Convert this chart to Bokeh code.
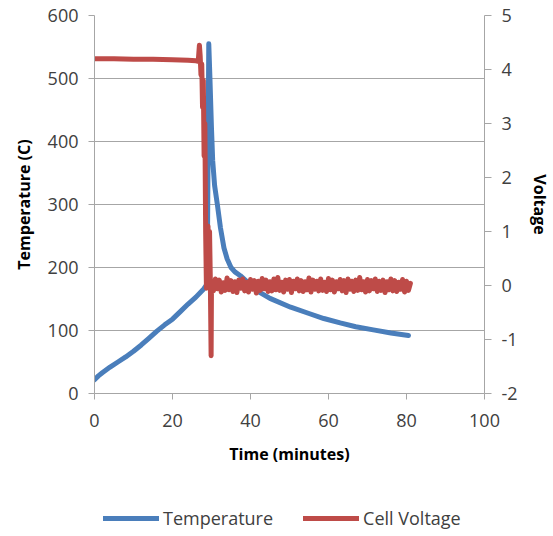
from bokeh.plotting import figure
from bokeh.layouts import column
from bokeh.models import Range1d, LinearAxis, FixedTicker, Legend, LegendItem
from bokeh.embed import file_html
from bokeh.resources import INLINE

# Temperature trace (minutes, deg C)
temp_t = [0, 1, 2, 4, 6, 8, 10, 12, 14, 16, 18, 20, 22, 24, 26, 28, 28.9,
          29.3, 29.6, 30.0, 30.3, 30.8, 31.5, 32.3, 33.2, 34.0, 35.0, 36.0,
          37.4, 39.0, 41.7, 45.0, 50.3, 55.0, 58.8, 63.0, 67.0, 71.5, 76.0, 80.5]
temp_c = [22, 28, 33, 42, 50, 58, 67, 77, 88, 99, 109, 118, 130, 142, 153, 166, 174,
          555, 500, 420, 370, 330, 300, 263, 231, 214, 200, 193,
          187, 178, 163, 151, 137, 127, 119, 112, 106, 101, 96, 92]

# Cell voltage before and during the event (minutes, V)
volt_t = [0, 5, 10, 15, 20, 24, 26, 26.6, 26.9, 27.1, 27.3, 27.5, 27.7, 27.9,
          28.1, 28.3, 28.5, 28.7, 28.9, 29.1, 29.3, 29.5, 29.7, 29.9]
volt_v = [4.20, 4.20, 4.19, 4.19, 4.18, 4.17, 4.16, 4.15, 4.45, 4.25, 3.90, 4.10, 3.30, 3.80,
          2.40, 3.00, 1.00, -0.05, 0.30, 1.10, 0.50, 1.00, 0.10, -1.30]

# Cell voltage after the event, sampled every half minute from 30 min
after_start = 30.0
after_step = 0.5
after_v = [0.08, -0.10, 0.12, -0.06, 0.10, -0.12, 0.05, -0.09, 0.14, -0.08,
           0.09, -0.11, 0.07, -0.13, 0.10, -0.05, 0.12, -0.10, 0.06, -0.12,
           0.11, -0.07, 0.09, -0.14, 0.08, -0.09, 0.13, -0.06, 0.10, -0.11,
           0.07, -0.10, 0.12, -0.08, 0.15, -0.09, 0.06, -0.12, 0.10, -0.07,
           0.11, -0.13, 0.08, -0.06, 0.12, -0.10, 0.09, -0.11, 0.07, -0.08,
           0.14, -0.12, 0.10, -0.07, 0.08, -0.10, 0.12, -0.09, 0.06, -0.11,
           0.13, -0.08, 0.10, -0.12, 0.07, -0.06, 0.11, -0.10, 0.09, -0.13,
           0.12, -0.07, 0.08, -0.11, 0.10, -0.09, 0.15, -0.08, 0.07, -0.12,
           0.11, -0.10, 0.09, -0.06, 0.12, -0.11, 0.08, -0.09, 0.10, -0.13,
           0.07, -0.08, 0.12, -0.10, 0.09, -0.11, 0.06, -0.07, 0.11, -0.12,
           0.08, -0.09, 0.04]
after_t = [after_start + after_step * i for i in range(len(after_v))]

x_ticks = [0, 20, 40, 60, 80, 100]
temp_ticks = [0, 100, 200, 300, 400, 500, 600]
volt_ticks = [-2, -1, 0, 1, 2, 3, 4, 5]
series_names = ["Temperature", "Cell Voltage"]

BLUE = "#4a7ebb"
RED = "#be4b48"
GRID = "#a6a6a6"
TICK_TEXT = "#404040"
FONT = "Open Sans"
W = 553
CHART_H = 500
LEGEND_H = 36
NAN = float("nan")

p = figure(width=W, height=CHART_H, x_range=Range1d(0, 100), y_range=Range1d(0, 600),
           output_backend="svg", toolbar_location=None,
           min_border_left=94, min_border_right=69, min_border_top=15, min_border_bottom=107)
p.extra_y_ranges = {"volt": Range1d(-2, 5)}
p.outline_line_color = None
p.background_fill_color = "white"
p.border_fill_color = "white"

# bottom axis
xa = p.xaxis[0]
xa.ticker = FixedTicker(ticks=x_ticks)
xa.axis_label = "Time (minutes)"

# left axis
ya = p.yaxis[0]
ya.ticker = FixedTicker(ticks=temp_ticks)
ya.axis_label = "Temperature (C)"

# right axis for voltage, plain hyphen for negatives
yr = LinearAxis(y_range_name="volt", ticker=FixedTicker(ticks=volt_ticks), axis_label="Voltage",
                major_label_overrides={t: str(t) for t in volt_ticks})
p.add_layout(yr, "right")

for ax in (xa, ya, yr):
    ax.axis_line_color = GRID
    ax.major_tick_line_color = GRID
    ax.minor_tick_line_color = None
    ax.major_tick_in = 0
    ax.major_label_text_font = FONT
    ax.major_label_text_font_size = "18px"
    ax.major_label_text_color = TICK_TEXT
    ax.axis_label_text_font = FONT
    ax.axis_label_text_font_size = "16px"
    ax.axis_label_text_font_style = "bold"
    ax.axis_label_text_color = "black"

xa.major_tick_out = 6
xa.major_label_standoff = 14
xa.axis_label_standoff = 13
ya.major_tick_out = 6
ya.major_label_standoff = 10
ya.axis_label_standoff = 10
yr.major_tick_out = 7
yr.major_label_standoff = 10
yr.axis_label_standoff = 8

p.xgrid.grid_line_color = None
p.ygrid.grid_line_color = GRID
p.ygrid.grid_line_width = 1
p.ygrid.ticker = FixedTicker(ticks=temp_ticks)

p.line(temp_t, temp_c, line_color=BLUE, line_width=5, line_join="round", line_cap="round")
p.line(volt_t + after_t, volt_v + after_v, y_range_name="volt",
       line_color=RED, line_width=5, line_join="round", line_cap="round")

# legend strip underneath the chart; its frame lines up with the chart's frame
lf = figure(width=W, height=LEGEND_H, output_backend="svg", toolbar_location=None,
            min_border=0, x_range=Range1d(0, 1), y_range=Range1d(0, 1))
lf.axis.visible = False
lf.grid.visible = False
lf.outline_line_color = None
lf.border_fill_color = "white"
key_temp = lf.line([NAN], [NAN], line_color=BLUE, line_width=5, line_cap="round")
key_volt = lf.line([NAN], [NAN], line_color=RED, line_width=5, line_cap="round")
legend = Legend(items=[LegendItem(label=series_names[0], renderers=[key_temp]),
                       LegendItem(label=series_names[1], renderers=[key_volt])],
                location=(9, 6), orientation="horizontal",
                glyph_width=56, glyph_height=20, label_height=20,
                label_standoff=4, spacing=30, padding=0, margin=0,
                border_line_color=None, background_fill_alpha=0,
                label_text_font=FONT, label_text_font_size="18px",
                label_text_color=TICK_TEXT)
lf.add_layout(legend, "center")

open("out.html", "w").write(file_html(column(p, lf, spacing=0), INLINE))
